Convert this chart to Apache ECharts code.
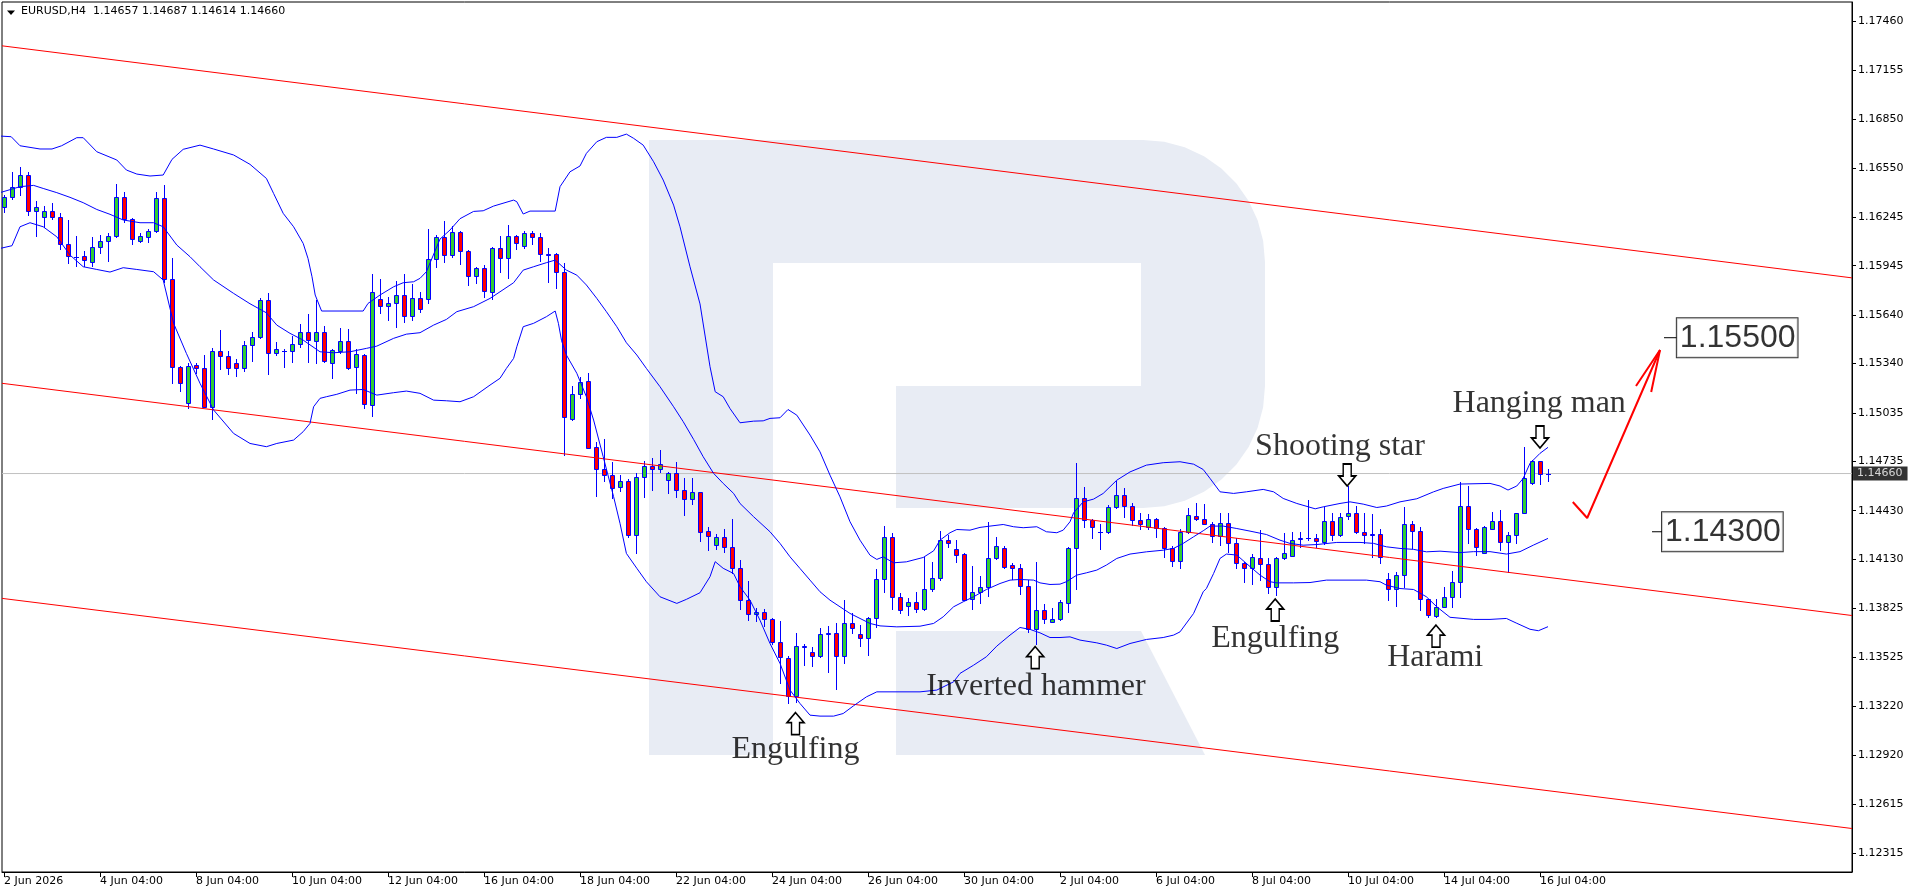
<!DOCTYPE html>
<html><head><meta charset="utf-8">
<script src="https://cdn.jsdelivr.net/npm/echarts@6/dist/echarts.min.js"></script>
<style>html,body{margin:0;padding:0;background:#fff}#c{width:1916px;height:896px}</style>
</head><body><div id="c"></div>
<script>
// ---------- data ----------
const instrument = 'EURUSD,H4';
const lastQuote = [1.14657, 1.14687, 1.14614, 1.14660]; // O H L C of last bar
const currentPrice = 1.14660;

const xTickBars = [0,12,24,36,48,60,72,84,96,108,120,132,144,156,168,180,192];
const xTickLabels = ['2 Jun 2026','4 Jun 04:00','8 Jun 04:00','10 Jun 04:00','12 Jun 04:00','16 Jun 04:00',
  '18 Jun 04:00','22 Jun 04:00','24 Jun 04:00','26 Jun 04:00','30 Jun 04:00','2 Jul 04:00','6 Jul 04:00',
  '8 Jul 04:00','10 Jul 04:00','14 Jul 04:00','16 Jul 04:00'];
const yTicks = [1.12315,1.12615,1.12920,1.13220,1.13525,1.13825,1.14130,1.14430,1.14735,1.15035,
  1.15340,1.15640,1.15945,1.16245,1.16550,1.16850,1.17155,1.17460];

// [open, high, low, close] per H4 bar
const ohlc = [
[1.16310,1.16382,1.16279,1.16372],[1.16372,1.16522,1.16357,1.16434],[1.16430,1.16553,1.16382,1.16504],
[1.16504,1.16524,1.16258,1.16281],[1.16281,1.16343,1.16129,1.16306],[1.16244,1.16314,1.16186,1.16281],
[1.16285,1.16333,1.16234,1.16248],[1.16248,1.16269,1.16046,1.16077],[1.16077,1.16228,1.15964,1.16003],
[1.16001,1.16129,1.15945,1.16000],[1.16003,1.16036,1.15945,1.15982],[1.15966,1.16120,1.15945,1.16063],
[1.16063,1.16137,1.16021,1.16098],[1.16096,1.16149,1.15976,1.16127],[1.16127,1.16450,1.16125,1.16368],
[1.16368,1.16401,1.16217,1.16232],[1.16232,1.16238,1.16077,1.16108],[1.16096,1.16145,1.16092,1.16127],
[1.16120,1.16174,1.16094,1.16160],[1.16158,1.16401,1.16156,1.16362],[1.16362,1.16444,1.15846,1.15861],
[1.15861,1.15993,1.15218,1.15316],[1.15316,1.15327,1.15172,1.15218],[1.15094,1.15345,1.15063,1.15327],
[1.15329,1.15341,1.15283,1.15310],[1.15310,1.15393,1.15069,1.15073],[1.15073,1.15434,1.14995,1.15417],
[1.15417,1.15547,1.15308,1.15384],[1.15384,1.15417,1.15273,1.15310],[1.15341,1.15368,1.15265,1.15310],
[1.15310,1.15479,1.15296,1.15452],[1.15452,1.15535,1.15358,1.15502],[1.15502,1.15743,1.15500,1.15731],
[1.15731,1.15774,1.15277,1.15403],[1.15403,1.15471,1.15391,1.15428],[1.15419,1.15430,1.15321,1.15420],
[1.15415,1.15512,1.15347,1.15459],[1.15459,1.15582,1.15444,1.15533],[1.15533,1.15646,1.15347,1.15485],
[1.15477,1.15731,1.15343,1.15533],[1.15533,1.15572,1.15347,1.15353],[1.15341,1.15430,1.15248,1.15421],
[1.15419,1.15557,1.15407,1.15477],[1.15477,1.15551,1.15304,1.15314],[1.15316,1.15428,1.15160,1.15397],
[1.15391,1.15399,1.15067,1.15088],[1.15081,1.15894,1.15018,1.15780],[1.15737,1.15863,1.15654,1.15694],
[1.15694,1.15749,1.15609,1.15712],[1.15712,1.15850,1.15568,1.15762],[1.15762,1.15894,1.15595,1.15632],
[1.15632,1.15832,1.15611,1.15743],[1.15743,1.15780,1.15661,1.15675],[1.15737,1.16172,1.15716,1.15984],
[1.15984,1.16133,1.15939,1.16120],[1.16120,1.16221,1.15966,1.16009],[1.16009,1.16192,1.15997,1.16151],
[1.16151,1.16157,1.15957,1.16034],[1.16034,1.16042,1.15828,1.15881],[1.15881,1.15939,1.15840,1.15931],
[1.15931,1.15949,1.15753,1.15786],[1.15784,1.16063,1.15741,1.16054],[1.16054,1.16129,1.15908,1.15991],
[1.15991,1.16197,1.15871,1.16127],[1.16127,1.16135,1.16050,1.16083],[1.16065,1.16162,1.16057,1.16145],
[1.16145,1.16160,1.16081,1.16120],[1.16120,1.16145,1.15976,1.16015],[1.16015,1.16054,1.15846,1.16014],
[1.16015,1.16026,1.15805,1.15908],[1.15908,1.15960,1.14774,1.15007],[1.14995,1.15201,1.14993,1.15150],
[1.15150,1.15259,1.15125,1.15224],[1.15230,1.15279,1.14816,1.14820],[1.14826,1.14853,1.14523,1.14686],
[1.14686,1.14871,1.14614,1.14649],[1.14649,1.14729,1.14506,1.14568],[1.14574,1.14649,1.14554,1.14614],
[1.14614,1.14626,1.14269,1.14278],[1.14278,1.14661,1.14170,1.14636],[1.14636,1.14739,1.14517,1.14704],
[1.14704,1.14754,1.14558,1.14686],[1.14686,1.14805,1.14671,1.14717],[1.14618,1.14671,1.14537,1.14661],
[1.14661,1.14731,1.14517,1.14556],[1.14556,1.14630,1.14403,1.14500],[1.14500,1.14630,1.14469,1.14544],
[1.14544,1.14546,1.14245,1.14300],[1.14302,1.14329,1.14185,1.14271],[1.14216,1.14284,1.14195,1.14265],
[1.14265,1.14315,1.14175,1.14203],[1.14203,1.14382,1.14042,1.14073],[1.14077,1.14125,1.13820,1.13881],
[1.13881,1.13997,1.13754,1.13791],[1.13789,1.13826,1.13747,1.13801],[1.13801,1.13820,1.13716,1.13758],
[1.13758,1.13764,1.13609,1.13620],[1.13620,1.13747,1.13366,1.13523],[1.13517,1.13531,1.13242,1.13284],
[1.13284,1.13671,1.13249,1.13593],[1.13589,1.13605,1.13475,1.13593],[1.13554,1.13585,1.13469,1.13531],
[1.13531,1.13702,1.13527,1.13665],[1.13667,1.13719,1.13434,1.13671],[1.13671,1.13737,1.13325,1.13531],
[1.13531,1.13877,1.13486,1.13733],[1.13733,1.13799,1.13675,1.13702],[1.13665,1.13723,1.13593,1.13640],
[1.13640,1.13770,1.13537,1.13764],[1.13764,1.14067,1.13712,1.14005],[1.14005,1.14335,1.13929,1.14265],
[1.14265,1.14294,1.13824,1.13894],[1.13894,1.13923,1.13799,1.13815],[1.13842,1.13888,1.13784,1.13867],
[1.13867,1.13925,1.13805,1.13820],[1.13820,1.14141,1.13815,1.13949],[1.13949,1.14114,1.13935,1.14017],
[1.14017,1.14306,1.14001,1.14252],[1.14252,1.14277,1.14207,1.14228],[1.14191,1.14248,1.14114,1.14156],
[1.14160,1.14170,1.13877,1.13881],[1.13885,1.14087,1.13820,1.13929],[1.13929,1.14026,1.13857,1.13956],
[1.13956,1.14358,1.13902,1.14135],[1.14135,1.14269,1.14129,1.14211],[1.14197,1.14213,1.14077,1.14083],
[1.14094,1.14108,1.14005,1.14077],[1.14079,1.14100,1.13914,1.13964],[1.13964,1.14001,1.13681,1.13696],
[1.13700,1.14110,1.13609,1.13815],[1.13819,1.13852,1.13737,1.13758],[1.13745,1.13826,1.13741,1.13760],
[1.13758,1.13877,1.13754,1.13865],[1.13857,1.14207,1.13803,1.14197],[1.14197,1.14727,1.13949,1.14506],
[1.14506,1.14574,1.14331,1.14372],[1.14372,1.14382,1.14259,1.14331],[1.14298,1.14347,1.14195,1.14297],
[1.14300,1.14465,1.14294,1.14454],[1.14454,1.14615,1.14450,1.14525],[1.14525,1.14568,1.14393,1.14461],
[1.14461,1.14475,1.14341,1.14372],[1.14370,1.14413,1.14320,1.14345],[1.14331,1.14407,1.14320,1.14378],
[1.14378,1.14388,1.14269,1.14322],[1.14322,1.14331,1.14145,1.14197],[1.14197,1.14211,1.14089,1.14122],
[1.14122,1.14320,1.14077,1.14300],[1.14300,1.14446,1.14294,1.14401],[1.14397,1.14475,1.14372,1.14382],
[1.14382,1.14471,1.14347,1.14351],[1.14345,1.14362,1.14238,1.14273],[1.14273,1.14413,1.14221,1.14355],
[1.14355,1.14413,1.14176,1.14228],[1.14228,1.14259,1.14073,1.14104],[1.14108,1.14114,1.13991,1.14073],
[1.14073,1.14162,1.13980,1.14141],[1.14135,1.14310,1.14001,1.14100],[1.14098,1.14135,1.13923,1.13956],
[1.13956,1.14145,1.13908,1.14135],[1.14137,1.14294,1.14133,1.14166],[1.14153,1.14300,1.14149,1.14252],
[1.14254,1.14300,1.14203,1.14261],[1.14259,1.14496,1.14252,1.14263],[1.14261,1.14289,1.14207,1.14240],
[1.14238,1.14454,1.14224,1.14364],[1.14364,1.14413,1.14248,1.14283],[1.14283,1.14413,1.14273,1.14393],
[1.14397,1.14582,1.14376,1.14417],[1.14417,1.14459,1.14294,1.14298],[1.14296,1.14417,1.14228,1.14283],
[1.14289,1.14407,1.14145,1.14283],[1.14289,1.14314,1.14108,1.14145],[1.14005,1.14046,1.13881,1.13949],
[1.13949,1.14052,1.13840,1.14032],[1.14032,1.14454,1.13960,1.14351],[1.14351,1.14368,1.14197,1.14304],
[1.14304,1.14331,1.13815,1.13883],[1.13883,1.13887,1.13774,1.13784],[1.13778,1.13887,1.13774,1.13836],
[1.13836,1.13960,1.13832,1.13898],[1.13899,1.14059,1.13833,1.13987],[1.13987,1.14610,1.13894,1.14459],
[1.14459,1.14583,1.14232,1.14315],[1.14315,1.14321,1.14156,1.14204],[1.14171,1.14335,1.14166,1.14329],
[1.14319,1.14422,1.14315,1.14364],[1.14364,1.14434,1.14187,1.14239],[1.14235,1.14296,1.14053,1.14280],
[1.14278,1.14418,1.14228,1.14414],[1.14418,1.14822,1.14414,1.14630],[1.14599,1.14744,1.14595,1.14737],
[1.14737,1.14740,1.14593,1.14655],[1.14657,1.14687,1.14614,1.14660]
];

// Bollinger bands, [bar position, price] as read
const bbUpper = [[-0.5,1.16747],[0.9,1.16743],[2.0,1.16687],[4.5,1.16667],[6.0,1.16667],[7.2,1.16687],[9.1,1.16737],[9.9,1.16737],[11.6,1.16650],[14.1,1.16599],[15.3,1.16537],[16.6,1.16512],[18.25,1.16500],[19.9,1.16506],[21.0,1.16603],[22.4,1.16665],[24.5,1.16691],[26.2,1.16667],[28.7,1.16630],[30.75,1.16572],[32.8,1.16485],[33.7,1.16392],[34.9,1.16269],[36.2,1.16186],[37.4,1.16083],[38.0,1.15990],[38.5,1.15877],[38.9,1.15764],[39.7,1.15665],[44.9,1.15665],[45.5,1.15712],[47.0,1.15764],[48.7,1.15815],[49.9,1.15840],[51.2,1.15846],[52.0,1.15867],[52.8,1.15908],[54.5,1.16110],[55.75,1.16166],[57.0,1.16236],[58.7,1.16281],[59.9,1.16285],[61.2,1.16314],[63.7,1.16351],[64.1,1.16341],[64.9,1.16265],[65.75,1.16283],[68.9,1.16283],[69.5,1.16434],[70.75,1.16526],[72.0,1.16562],[72.8,1.16640],[74.1,1.16712],[75.3,1.16739],[76.6,1.16739],[77.8,1.16759],[78.7,1.16733],[79.9,1.16691],[81.2,1.16588],[82.4,1.16475],[83.7,1.16320],[84.5,1.16186],[85.75,1.15939],[87.0,1.15709],[88.25,1.15321],[88.9,1.15166],[89.9,1.15135],[90.75,1.15062],[92.0,1.14974],[93.7,1.14984],[94.9,1.14986],[95.75,1.15001],[97.0,1.15005],[98.0,1.15056],[99.1,1.15021],[100.75,1.14898],[102.0,1.14794],[103.25,1.14650],[104.5,1.14516],[105.75,1.14362],[107.0,1.14248],[108.25,1.14155],[109.1,1.14129],[109.9,1.14145],[111.2,1.14108],[112.8,1.14114],[114.9,1.14141],[116.2,1.14182],[117.0,1.14248],[118.25,1.14294],[119.1,1.14314],[120.75,1.14310],[122.0,1.14327],[123.25,1.14335],[124.9,1.14345],[126.2,1.14331],[127.4,1.14325],[129.1,1.14331],[130.3,1.14300],[131.6,1.14294],[132.4,1.14310],[133.25,1.14362],[133.7,1.14417],[134.9,1.14485],[136.2,1.14502],[137.4,1.14537],[138.25,1.14578],[139.1,1.14619],[140.75,1.14670],[142.8,1.14712],[144.9,1.14727],[147.0,1.14733],[148.7,1.14718],[149.9,1.14685],[150.75,1.14630],[152.0,1.14547],[153.7,1.14537],[155.3,1.14547],[157.4,1.14562],[158.7,1.14547],[159.9,1.14506],[161.6,1.14475],[163.9,1.14442],[164.9,1.14454],[167.0,1.14475],[168.25,1.14485],[169.9,1.14471],[171.6,1.14450],[172.8,1.14459],[174.5,1.14485],[176.6,1.14504],[178.7,1.14547],[179.9,1.14568],[182.0,1.14595],[185.75,1.14599],[187.0,1.14583],[188.0,1.14558],[189.1,1.14583],[189.9,1.14630],[190.75,1.14723],[192.0,1.14785],[193.0,1.14822]];
const bbMiddle = [[-0.5,1.16397],[2.0,1.16434],[3.7,1.16442],[4.9,1.16423],[6.6,1.16397],[8.25,1.16368],[9.9,1.16335],[11.6,1.16293],[13.25,1.16263],[14.9,1.16228],[17.0,1.16211],[18.7,1.16211],[19.9,1.16186],[21.6,1.16073],[23.25,1.16001],[24.5,1.15939],[26.2,1.15857],[28.7,1.15774],[30.75,1.15710],[32.8,1.15654],[34.1,1.15578],[35.75,1.15527],[37.4,1.15485],[39.5,1.15413],[41.2,1.15407],[43.25,1.15413],[45.3,1.15434],[46.6,1.15448],[48.7,1.15496],[50.3,1.15522],[52.0,1.15531],[53.7,1.15578],[55.3,1.15613],[56.6,1.15661],[58.7,1.15692],[60.75,1.15743],[62.0,1.15784],[63.7,1.15840],[64.9,1.15918],[66.2,1.15939],[67.8,1.15964],[68.9,1.15980],[70.3,1.15918],[71.6,1.15887],[72.8,1.15826],[74.1,1.15743],[75.3,1.15661],[76.6,1.15568],[77.8,1.15469],[79.1,1.15393],[80.3,1.15310],[82.0,1.15197],[83.7,1.15073],[84.9,1.14981],[86.2,1.14871],[87.4,1.14764],[88.7,1.14661],[89.9,1.14599],[91.2,1.14537],[92.0,1.14475],[93.7,1.14393],[95.75,1.14300],[97.0,1.14228],[98.25,1.14145],[99.5,1.14073],[100.75,1.14001],[102.0,1.13929],[103.25,1.13877],[104.5,1.13836],[105.75,1.13795],[107.0,1.13764],[108.25,1.13733],[109.5,1.13718],[111.6,1.13712],[114.5,1.13716],[116.2,1.13733],[117.4,1.13774],[118.7,1.13836],[119.9,1.13867],[121.2,1.13898],[122.8,1.13943],[124.5,1.13980],[125.75,1.14001],[127.0,1.14005],[128.7,1.14001],[129.5,1.13984],[130.75,1.13974],[132.0,1.13976],[132.8,1.13991],[134.1,1.14032],[135.3,1.14046],[136.6,1.14063],[137.8,1.14094],[139.1,1.14135],[140.75,1.14162],[142.8,1.14176],[144.9,1.14186],[146.2,1.14197],[147.4,1.14228],[148.7,1.14269],[149.9,1.14306],[150.75,1.14335],[152.4,1.14335],[154.1,1.14320],[155.75,1.14304],[157.8,1.14283],[159.5,1.14248],[160.75,1.14228],[162.4,1.14217],[164.1,1.14221],[166.6,1.14234],[169.5,1.14234],[171.2,1.14228],[172.8,1.14207],[174.5,1.14197],[176.2,1.14191],[177.8,1.14176],[179.5,1.14180],[182.0,1.14171],[183.7,1.14177],[185.75,1.14177],[187.8,1.14162],[189.5,1.14177],[191.2,1.14218],[193.0,1.14259]];
const bbLower = [[-0.5,1.16052],[1.0,1.16069],[2.0,1.16186],[3.25,1.16211],[4.9,1.16186],[6.6,1.16124],[8.25,1.16011],[9.9,1.15939],[11.6,1.15922],[13.25,1.15906],[14.9,1.15933],[16.6,1.15922],[18.7,1.15908],[19.9,1.15857],[21.2,1.15589],[22.8,1.15403],[24.5,1.15218],[26.2,1.15053],[28.7,1.14908],[30.75,1.14846],[32.8,1.14826],[34.1,1.14846],[36.2,1.14867],[37.4,1.14919],[38.25,1.14970],[38.7,1.15073],[39.5,1.15125],[40.3,1.15135],[41.6,1.15150],[43.25,1.15176],[44.9,1.15180],[46.6,1.15145],[48.7,1.15160],[50.3,1.15170],[52.0,1.15156],[53.7,1.15114],[55.3,1.15110],[57.0,1.15104],[58.7,1.15135],[60.75,1.15207],[62.0,1.15249],[62.8,1.15310],[63.7,1.15372],[64.1,1.15444],[64.9,1.15568],[66.2,1.15589],[67.8,1.15630],[68.9,1.15665],[69.3,1.15589],[69.7,1.15481],[70.3,1.15393],[71.6,1.15280],[72.8,1.15135],[73.7,1.14991],[74.9,1.14764],[76.2,1.14517],[77.0,1.14352],[77.8,1.14166],[79.1,1.14074],[80.3,1.13991],[82.0,1.13898],[84.1,1.13857],[85.3,1.13882],[87.0,1.13923],[88.25,1.14022],[88.9,1.14115],[89.9,1.14074],[91.2,1.14042],[92.0,1.13960],[93.25,1.13877],[94.5,1.13753],[95.75,1.13609],[97.0,1.13486],[98.25,1.13321],[99.5,1.13238],[100.75,1.13166],[102.0,1.13160],[103.7,1.13160],[104.9,1.13176],[106.2,1.13224],[107.8,1.13279],[109.1,1.13310],[114.5,1.13310],[116.6,1.13321],[118.7,1.13372],[119.5,1.13424],[121.2,1.13475],[122.8,1.13527],[124.1,1.13593],[125.75,1.13661],[127.0,1.13708],[128.25,1.13696],[129.5,1.13675],[130.75,1.13646],[132.0,1.13646],[133.25,1.13650],[134.5,1.13630],[136.6,1.13613],[137.8,1.13599],[139.1,1.13578],[140.75,1.13609],[142.8,1.13634],[144.9,1.13646],[146.2,1.13661],[147.0,1.13681],[148.7,1.13795],[149.9,1.13929],[150.3,1.13949],[151.2,1.14042],[152.0,1.14135],[152.8,1.14162],[154.1,1.14156],[155.3,1.14104],[157.0,1.14032],[158.25,1.13991],[159.1,1.13984],[161.2,1.13984],[163.25,1.13986],[165.3,1.14001],[170.3,1.14001],[172.0,1.13991],[172.8,1.13970],[174.5,1.13949],[176.2,1.13943],[177.8,1.13898],[179.1,1.13836],[180.75,1.13771],[183.7,1.13758],[185.75,1.13758],[187.8,1.13764],[189.1,1.13734],[190.75,1.13697],[191.8,1.13688],[193.0,1.13713]];

// descending price channel (left edge / right edge)
const channelTop = [[-0.25,1.17305],[231,1.15870]];
const channelMid = [[-0.25,1.15218],[231,1.13782]];
const channelBot = [[-0.25,1.13888],[231,1.12465]];

// candlestick pattern annotations
const patternNames = ['Engulfing','Inverted hammer','Engulfing','Shooting star','Harami','Hanging man'];
const patternArrowPos = [[98.94,1.13114],[128.9,1.13522],[158.9,1.13816],[167.9,1.14651],[179.0,1.13655],[192.0,1.14886]];
const patternArrowDir = ['up','up','up','down','up','down'];
const patternTextPos = [[98.94,1.12950],[129.0,1.13340],[158.9,1.13637],[167.0,1.14824],[178.9,1.13520],[191.9,1.15090]];

// forecast levels and arrow
const levelPrices = [1.15500, 1.14300];
const levelBoxStart = [209.1, 207.25];
const levelTickStart = [207.5, 206.0];
const forecastShaft = [[196.1,1.14484],[197.9,1.14385],[207.0,1.15424]];
const forecastHead = [[204.0,1.15201],[207.0,1.15424],[205.9,1.15164]];

// ---------- chart ----------
const X_MIN = -0.25, X_MAX = 231;
const BULL = '#32cd32', BEAR = '#ff0000', OUTLINE = '#0000ff';
const AXIS_FONT = 'DejaVu Sans';

function renderCandle(params, api) {
  const i = api.value(0), o = api.value(1), h = api.value(2), l = api.value(3), c = api.value(4);
  const pO = api.coord([i, o]), pC = api.coord([i, c]), pH = api.coord([i, h]), pL = api.coord([i, l]);
  const cx = Math.round(pO[0]);
  const yT = Math.round(Math.min(pO[1], pC[1])), yB = Math.round(Math.max(pO[1], pC[1]));
  const yH = Math.round(pH[1]), yL = Math.round(pL[1]);
  const children = [{type:'line', shape:{x1:cx+0.5, y1:yH, x2:cx+0.5, y2:yL+1}, style:{stroke:OUTLINE, lineWidth:1}}];
  if (yB - yT < 1) {
    children.push({type:'line', shape:{x1:cx-2, y1:yT+0.5, x2:cx+3, y2:yT+0.5}, style:{stroke:OUTLINE, lineWidth:1}});
  } else {
    children.push({type:'rect', shape:{x:cx-1.5, y:yT+0.5, width:4, height:yB-yT},
      style:{fill: c >= o ? BULL : BEAR, stroke:OUTLINE, lineWidth:1}});
  }
  return {type:'group', children};
}

// watermark "R" outline (background decoration, pixel space)
function roundedR() {
  const pts = [[649,140],[1143,140]];
  for (let a = -80; a <= 0; a += 10) { const t = a*Math.PI/180; pts.push([1143+122*Math.cos(t), 262+122*Math.sin(t)]); }
  pts.push([1265,386]);
  for (let a = 10; a <= 90; a += 10) { const t = a*Math.PI/180; pts.push([1143+122*Math.cos(t), 386+122*Math.sin(t)]); }
  pts.push([896,508],[896,386],[1141,386],[1141,263],[773,263],[773,755],[649,755]);
  return pts;
}

const arrowPath = 'path://M8.5,0 L17,10 L12.5,10 L12.5,22 L4.5,22 L4.5,10 L0,10 Z';

const chart = echarts.init(document.getElementById('c'), null, {renderer:'canvas'});
const lineBase = {type:'line', showSymbol:false, symbol:'none', silent:true, animation:false};

const series = [
  Object.assign({}, lineBase, {name:'priceLine', data:[[X_MIN, currentPrice],[X_MAX, currentPrice]],
    lineStyle:{color:'#c0c0c0', width:1}, z:1}),
  Object.assign({}, lineBase, {name:'chTop', data:channelTop, lineStyle:{color:'#ff0000', width:1}}),
  Object.assign({}, lineBase, {name:'chMid', data:channelMid, lineStyle:{color:'#ff0000', width:1}}),
  Object.assign({}, lineBase, {name:'chBot', data:channelBot, lineStyle:{color:'#ff0000', width:1}}),
  Object.assign({}, lineBase, {name:'bbU', data:bbUpper, lineStyle:{color:'#0000ff', width:1}}),
  Object.assign({}, lineBase, {name:'bbM', data:bbMiddle, lineStyle:{color:'#0000ff', width:1}}),
  Object.assign({}, lineBase, {name:'bbL', data:bbLower, lineStyle:{color:'#0000ff', width:1}}),
  {type:'custom', name:'candles', renderItem:renderCandle, clip:true, silent:true, animation:false, z:3,
    encode:{x:0, y:[1,2,3,4]}, data: ohlc.map((d, i) => [i, d[0], d[1], d[2], d[3]])},
  Object.assign({}, lineBase, {name:'shaft', data:forecastShaft, lineStyle:{color:'#ff0000', width:2}, z:4}),
  Object.assign({}, lineBase, {name:'head', data:forecastHead, lineStyle:{color:'#ff0000', width:2}, z:4}),
  {type:'scatter', name:'arrows', silent:true, animation:false, z:5, symbol:arrowPath, symbolSize:[17,22],
    itemStyle:{color:'#fff', borderColor:'#000', borderWidth:1.6, opacity:1},
    data: patternArrowPos.map((p, k) => ({value:p, symbolRotate: patternArrowDir[k] === 'down' ? 180 : 0}))},
  {type:'scatter', name:'patternText', silent:true, animation:false, z:5, symbolSize:0.1,
    itemStyle:{color:'rgba(0,0,0,0)'},
    label:{show:true, position:'inside', formatter:'{b}', color:'#000', fontFamily:'Liberation Serif', fontSize:32},
    data: patternTextPos.map((p, k) => ({name:patternNames[k], value:p}))},
  {type:'scatter', name:'priceTag', silent:true, animation:false, z:8, clip:false, symbolSize:0.1,
    itemStyle:{color:'rgba(0,0,0,0)'},
    label:{show:true, position:'right', distance:1, formatter:(pr) => pr.value[1].toFixed(5), color:'#fff',
      backgroundColor:'#000', padding:[1,5,1,4], fontSize:11, lineHeight:12, fontFamily:AXIS_FONT},
    data:[[X_MAX, currentPrice]]}
];
levelPrices.forEach((p, k) => {
  series.push(Object.assign({}, lineBase, {name:'lvlTick'+k, data:[[levelTickStart[k], p],[levelBoxStart[k], p]],
    lineStyle:{color:'#000', width:1}, z:5}));
});
series.push({type:'scatter', name:'levels', silent:true, animation:false, z:6, symbolSize:0.1,
  itemStyle:{color:'rgba(0,0,0,0)'},
  label:{show:true, position:'right', distance:0, formatter:(pr) => pr.value[1].toFixed(5), color:'#000',
    fontFamily:'Liberation Sans', fontSize:32, lineHeight:32, backgroundColor:'#fff',
    borderColor:'#000', borderWidth:1, padding:[4,2,3,3]},
  data: levelPrices.map((p, k) => [levelBoxStart[k], p])});

const R_COLOR = '#e8ecf4';
const option = {
  animation:false,
  backgroundColor:'#fff',
  title:{text: instrument + '  ' + lastQuote.map(v => v.toFixed(5)).join(' '), left:21, top:6, padding:0,
    textStyle:{fontSize:11, fontWeight:'normal', fontFamily:AXIS_FONT, color:'#000'}},
  graphic:[
    {type:'polygon', z:-10, silent:true, shape:{points:roundedR()}, style:{fill:R_COLOR}},
    {type:'polygon', z:-10, silent:true, shape:{points:[[896,631],[1141,631],[1205,755],[896,755]]}, style:{fill:R_COLOR}},
    {type:'polygon', z:10, silent:true, shape:{points:[[7,10.5],[15,10.5],[11,15]]}, style:{fill:'#000'}}
  ],
  grid:{left:2, top:2, right:64, bottom:24, show:true, borderColor:'#000', borderWidth:1,
    backgroundColor:'transparent', containLabel:false, outerBoundsMode:'none'},
  xAxis:{type:'value', min:X_MIN, max:X_MAX, splitLine:{show:false},
    axisLine:{show:true, onZero:false, lineStyle:{color:'#000', width:1}},
    axisTick:{show:true, customValues:xTickBars, length:5, lineStyle:{color:'#000'}},
    axisLabel:{show:true, customValues:xTickBars, align:'left', margin:4, fontSize:11, fontFamily:AXIS_FONT,
      color:'#000', hideOverlap:false,
      formatter:(v) => { const k = xTickBars.indexOf(Math.round(v)); return k >= 0 ? xTickLabels[k] : ''; }}},
  yAxis:{type:'value', position:'right', min:1.12196, max:1.17576, scale:true, splitLine:{show:false},
    axisLine:{show:true, onZero:false, lineStyle:{color:'#000', width:1}},
    axisTick:{show:true, customValues:yTicks, length:4, lineStyle:{color:'#000'}},
    axisLabel:{show:true, customValues:yTicks, margin:6, fontSize:11, fontFamily:AXIS_FONT, color:'#000',
      hideOverlap:false, formatter:(v) => v.toFixed(5)}},
  series
};
chart.setOption(option);
</script></body></html>
